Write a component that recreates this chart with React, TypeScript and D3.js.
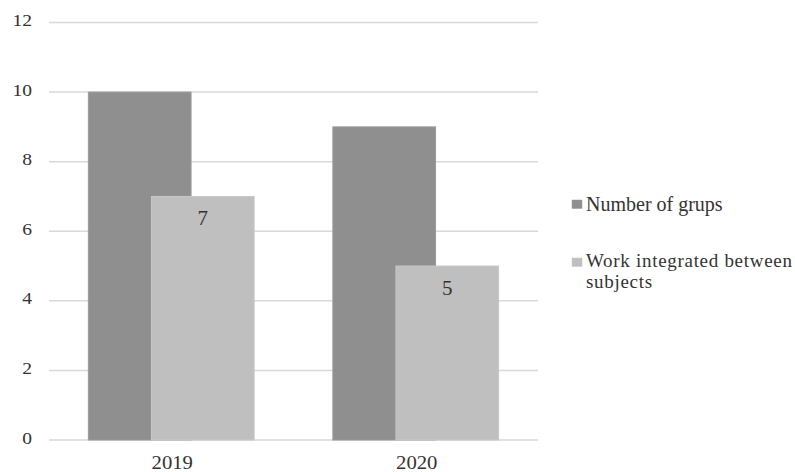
import React from "react";
import * as d3 from "d3";

const categories = ["2019", "2020"];
const seriesNames = ["Number of grups", "Work integrated between subjects"];
const groupsValues = [10, 9];
const integratedValues = [7, 5];
const yTicks = [0, 2, 4, 6, 8, 10, 12];
const colors = ["#8f8f8f", "#bfbfbf"];

const font = "'Liberation Serif'";

function SText(props: { x: number; y: number; size: number; sx?: number; anchor?: string; children: React.ReactNode; ls?: number }) {
  const { x, y, size, sx = 1, anchor = "start", children, ls = 0 } = props;
  return (
    <text
      transform={`translate(${x},${y}) scale(${sx},1)`}
      textAnchor={anchor}
      style={{ fontFamily: font, fontSize: size, letterSpacing: ls }}
      fill="#333"
    >
      {children}
    </text>
  );
}

export default function App() {
  const W = 795, H = 472;
  const x0 = 49, x1 = 538, yTop = 22.5, yBot = 440;
  const y = d3.scaleLinear().domain([0, 12]).range([yBot, yTop]);
  const x = d3.scaleBand().domain(categories).range([x0, x1]).paddingInner(0).paddingOuter(0);
  const barW = x.bandwidth() * 0.42;
  const offset = x.bandwidth() * 0.258;
  const series = [groupsValues, integratedValues];
  const groupW = barW + offset;

  return (
    <svg width={W} height={H} style={{ position: "absolute", left: 0, top: 0, background: "#fff" }}>
      <rect x={0} y={0} width={W} height={H} fill="#fff" />
      {yTicks.map((t) => (
        <g key={t}>
          <line x1={x0} x2={x1} y1={y(t)} y2={y(t)} stroke="#d9d9d9" strokeWidth={1.5} />
          <SText x={32} y={y(t) + 3.5} size={17} sx={1.15} anchor="end">{t}</SText>
        </g>
      ))}
      {series.map((vals, si) =>
        categories.map((c, ci) => {
          const cx = (x(c) as number) + x.bandwidth() / 2;
          const bx = cx - groupW / 2 + si * offset;
          return (
            <rect key={`${si}-${ci}`} x={bx} y={y(vals[ci])} width={barW} height={yBot - y(vals[ci])}
              fill={colors[si]} stroke={si === 0 ? "#9a9a9a" : "#c8c8c8"} strokeWidth={1} />
          );
        })
      )}
      {categories.map((c, ci) => {
        const cx = (x(c) as number) + x.bandwidth() / 2;
        const bx = cx - groupW / 2 + offset;
        return (
          <SText key={c} x={bx + barW / 2} y={y(integratedValues[ci]) + 29} size={21} anchor="middle">{integratedValues[ci]}</SText>
        );
      })}
      {categories.map((c) => (
        <SText key={c} x={(x(c) as number) + x.bandwidth() / 2 + 1} y={469} size={18} sx={1.15} anchor="middle">{c}</SText>
      ))}
      <rect x={572} y={200} width={10} height={8.5} fill={colors[0]} stroke="#9a9a9a" strokeWidth={0.5} />
      <SText x={586} y={211} size={20}>{seriesNames[0]}</SText>
      <rect x={572} y={258} width={10} height={8.5} fill={colors[1]} stroke="#c8c8c8" strokeWidth={0.5} />
      <SText x={586} y={267} size={19} ls={0.7}>Work integrated between</SText>
      <SText x={586} y={288} size={19} ls={0.7}>subjects</SText>
    </svg>
  );
}
